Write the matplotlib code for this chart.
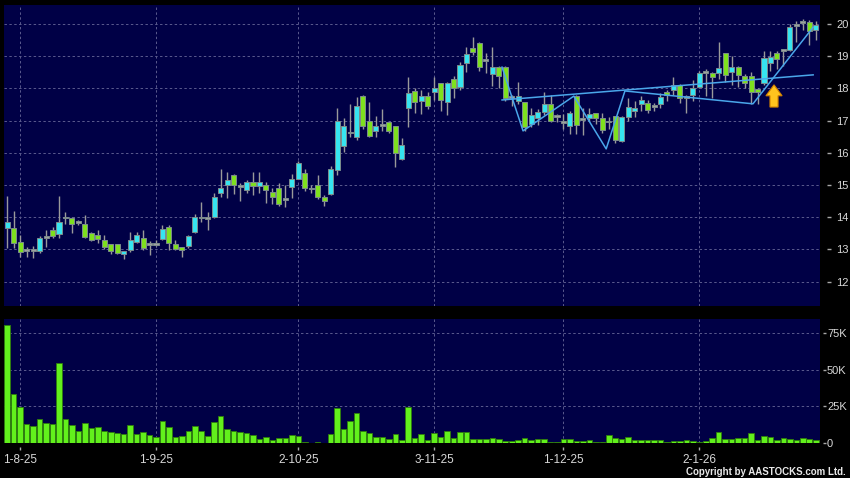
import numpy as np
import matplotlib.pyplot as plt
from matplotlib.patches import FancyArrow

# daily candles, oldest first (x = trading-day index)
opens = [13.66, 13.66, 13.23, 12.95, 12.95, 12.95, 13.35, 13.60, 13.48, 13.97,
         13.97, 13.82, 13.78, 13.50, 13.45, 13.30, 13.17, 13.17, 12.85, 12.98,
         13.23, 13.35, 13.14, 13.14, 13.32, 13.70, 13.17, 13.07, 13.10, 13.54,
         13.97, 13.94, 14.00, 14.75, 15.00, 15.30, 14.94, 14.85, 15.10, 14.97,
         15.00, 14.78, 14.90, 14.53, 14.94, 15.20, 15.37, 14.87, 15.00, 14.63,
         14.72, 15.47, 16.20, 16.60, 16.50, 17.77, 16.99, 16.68, 16.83, 16.96,
         16.83, 15.80, 17.39, 17.92, 17.60, 17.77, 17.90, 18.17, 17.58, 18.30,
         18.04, 18.79, 19.25, 19.41, 18.85, 18.45, 18.66, 18.66, 17.70, 17.60,
         17.58, 16.90, 17.08, 17.27, 17.50, 17.11, 16.93, 16.83, 17.77, 17.02,
         17.08, 17.23, 17.08, 16.95, 17.14, 16.37, 17.11, 17.30, 17.50, 17.55,
         17.42, 17.50, 17.89, 17.95, 18.10, 17.70, 17.80, 18.04, 18.48, 18.48,
         18.48, 19.10, 18.50, 18.66, 18.38, 18.38, 17.98, 18.17, 18.80, 19.10,
         19.16, 19.20, 19.94, 20.03, 20.06, 19.80]
highs = [14.66, 14.20, 13.45, 13.07, 13.10, 13.40, 13.60, 13.70, 14.66, 14.15,
         14.00, 13.90, 14.07, 13.55, 13.60, 13.45, 13.17, 13.17, 12.95, 13.54,
         13.55, 13.60, 13.27, 13.30, 13.75, 13.75, 13.30, 13.07, 13.45, 14.10,
         14.47, 14.15, 14.75, 15.50, 15.40, 15.35, 15.05, 15.15, 15.40, 15.40,
         15.10, 14.90, 15.05, 15.00, 15.35, 15.75, 15.50, 15.00, 15.30, 14.70,
         15.60, 17.40, 17.08, 17.50, 17.73, 17.80, 17.58, 17.15, 17.35, 16.96,
         16.83, 16.45, 18.35, 18.00, 17.95, 17.90, 18.35, 18.17, 18.20, 18.38,
         18.83, 19.30, 19.60, 19.45, 19.10, 19.30, 18.70, 18.70, 17.80, 18.20,
         17.58, 17.40, 17.35, 17.90, 17.80, 17.20, 17.20, 17.30, 17.80, 17.40,
         17.40, 17.25, 17.25, 17.10, 17.14, 17.15, 17.70, 17.60, 17.75, 17.65,
         17.55, 17.85, 17.95, 18.35, 18.15, 17.80, 18.25, 18.55, 18.60, 18.52,
         19.44, 19.10, 19.00, 18.70, 18.45, 18.50, 18.00, 19.15, 19.15, 19.15,
         19.20, 20.00, 20.10, 20.15, 20.12, 20.10]
lows = [13.04, 13.05, 12.76, 12.76, 12.73, 12.90, 13.07, 13.35, 13.35, 13.80,
        13.50, 13.75, 13.35, 13.25, 13.20, 13.00, 12.85, 12.85, 12.70, 12.92,
        13.20, 12.98, 12.83, 13.10, 13.30, 12.98, 12.98, 12.76, 13.04, 13.50,
        13.85, 13.60, 13.97, 14.63, 14.60, 14.72, 14.50, 14.75, 14.70, 14.75,
        14.45, 14.40, 14.35, 14.30, 14.60, 15.20, 14.80, 14.75, 14.55, 14.35,
        14.70, 15.30, 16.03, 16.50, 16.40, 16.75, 16.48, 16.50, 16.68, 16.60,
        15.56, 15.78, 16.80, 17.25, 17.20, 17.35, 17.65, 17.30, 17.17, 17.70,
        17.95, 18.50, 19.05, 18.55, 18.48, 18.07, 18.00, 17.60, 17.45, 17.50,
        16.68, 16.80, 16.85, 17.17, 16.95, 16.95, 16.75, 16.58, 16.58, 16.55,
        17.00, 16.90, 16.60, 16.75, 16.30, 16.33, 17.00, 17.10, 17.30, 17.25,
        17.30, 17.40, 17.60, 17.80, 17.55, 17.25, 17.60, 18.00, 17.75, 17.70,
        18.30, 18.20, 18.10, 18.05, 18.00, 17.50, 17.50, 18.10, 18.55, 18.60,
        18.70, 19.15, 19.45, 19.80, 19.35, 19.50]
closes = [13.85, 13.20, 12.92, 12.95, 12.95, 13.35, 13.35, 13.42, 13.85, 13.97,
          13.78, 13.82, 13.38, 13.30, 13.32, 13.07, 12.95, 12.90, 12.95, 13.30,
          13.45, 13.04, 13.14, 13.14, 13.63, 13.20, 13.00, 12.98, 13.42, 14.00,
          13.97, 13.94, 14.63, 14.90, 15.15, 15.00, 14.94, 15.10, 14.97, 15.10,
          14.85, 14.63, 14.40, 14.53, 15.20, 15.68, 14.90, 14.87, 14.63, 14.50,
          15.50, 16.99, 16.83, 16.60, 17.45, 16.83, 16.52, 16.83, 16.83, 16.68,
          16.00, 16.24, 17.86, 17.58, 17.76, 17.45, 18.00, 17.64, 18.17, 18.00,
          18.73, 19.07, 19.13, 18.66, 18.85, 18.66, 18.38, 17.70, 17.70, 17.77,
          16.80, 17.17, 17.27, 17.50, 17.00, 17.11, 16.93, 17.24, 16.86, 17.02,
          17.20, 17.08, 16.70, 16.95, 16.40, 17.11, 17.42, 17.39, 17.64, 17.33,
          17.42, 17.73, 17.80, 18.10, 17.70, 17.70, 18.00, 18.48, 18.48, 18.35,
          18.63, 18.42, 18.66, 18.42, 18.17, 17.90, 17.90, 18.94, 18.97, 18.90,
          19.16, 19.90, 19.94, 20.03, 19.78, 19.97]
volume_k = [80.0, 33.4, 24.8, 12.9, 11.7, 16.7, 14.0, 13.1, 54.6, 16.5,
            12.4, 8.6, 13.5, 10.6, 11.1, 8.1, 7.9, 7.2, 6.1, 12.2,
            6.5, 7.7, 5.6, 4.3, 15.3, 11.3, 4.5, 5.2, 8.1, 11.5,
            8.6, 5.2, 14.4, 18.7, 9.7, 8.1, 7.9, 6.8, 5.6, 3.2,
            4.3, 2.3, 3.6, 3.6, 5.9, 5.0, 0.7, 0.2, 0.7, 0.5,
            6.5, 24.2, 9.9, 15.3, 20.8, 8.1, 7.0, 4.1, 4.1, 2.7,
            6.3, 2.3, 24.8, 3.8, 6.3, 2.3, 6.8, 4.1, 8.4, 3.4,
            7.4, 7.9, 3.2, 3.2, 3.2, 3.4, 3.2, 1.6, 1.8, 2.3,
            3.6, 2.3, 3.2, 2.7, 0.9, 0.9, 2.7, 2.7, 1.4, 1.4,
            2.3, 0.9, 1.1, 5.4, 3.6, 3.2, 4.3, 2.3, 2.3, 2.3,
            2.5, 2.0, 0.9, 1.8, 1.8, 2.3, 1.8, 0.7, 1.6, 3.6,
            7.7, 2.9, 2.9, 3.8, 3.8, 7.0, 2.3, 5.2, 4.5, 2.3,
            3.8, 3.2, 2.3, 3.4, 2.9, 2.0]

date_labels = ['1-8-25', '1-9-25', '2-10-25', '3-11-25', '1-12-25', '2-1-26']
date_pos = [2, 23, 45, 66, 86, 107]

# hand-drawn pattern lines and the buy arrow
zigzag_x = [76.5, 79.75, 87.6, 92.6, 95.5, 115.3, 124.6]
zigzag_y = [18.66, 16.68, 17.76, 16.12, 17.92, 17.52, 19.9]
neck_x = [76.5, 124.6]
neck_y = [17.64, 18.42]
arrow_x = 118.55
arrow_y = [17.42, 18.11]

plt.rcParams['font.family'] = ['Liberation Sans', 'DejaVu Sans']

bg = '#000046'
gridc = '#5a5a8e'
txt = '#d8d8d8'
up_c, down_c, flat_c = '#36e4f0', '#7ee01e', '#a0a0a0'

o = np.array(opens); h = np.array(highs); l = np.array(lows); c = np.array(closes)
x = np.arange(len(o))
colors = np.where(c > o, up_c, np.where(c < o, down_c, flat_c))

fig = plt.figure(figsize=(8.5, 4.78), dpi=100, facecolor='black')
ax = fig.add_axes([4/850, 1-306/478, 816/850, 301/478], facecolor=bg)
ax2 = fig.add_axes([4/850, 1-443.3/478, 816/850, 124.3/478], facecolor=bg)

# price candles
ax.vlines(x, l, h, color='#9a9a9a', lw=1, zorder=2)
body_lo = np.minimum(o, c)
body_h = np.maximum(np.abs(c - o), 0.05)
ax.bar(x, body_h, bottom=body_lo, width=0.78, color=colors,
       edgecolor='#7c8c8c', linewidth=0.7, zorder=3)

ax.plot(zigzag_x, zigzag_y, color='#4aa6ea', lw=1.1, zorder=4)
ax.plot(neck_x, neck_y, color='#4aa6ea', lw=1.1, zorder=4)
ax.add_patch(FancyArrow(arrow_x, arrow_y[0], 0, arrow_y[1]-arrow_y[0], width=1.25,
                        head_width=2.5, head_length=0.34, length_includes_head=True,
                        facecolor='#ffc41e', edgecolor='#d08000', lw=0.8, zorder=5))

ax.set_xlim(-0.5, 125.66)
ax.set_ylim(11.24, 20.59)
ax.set_yticks(range(12, 21))

# volume
ax2.bar(x, volume_k, width=0.86, color='#62f01c', edgecolor='#2f7e0c',
        linewidth=0.6, zorder=3)
ax2.set_xlim(-0.5, 125.66)
ax2.set_ylim(0, 84.3)
ax2.set_yticks([0, 25, 50, 75])
ax2.set_yticklabels(['0', '25K', '50K', '75K'])

for a in (ax, ax2):
    for s in a.spines.values():
        s.set_visible(False)
    a.spines['bottom'].set_position(('outward', 2.4))
    a.yaxis.tick_right()
    a.set_xticks(date_pos)
    a.grid(True, color=gridc, ls=(0, (2.5, 2.5)), lw=0.7, zorder=1)
    a.set_axisbelow(True)
    a.tick_params(axis='x', colors='#a8a8a8', labelcolor=txt, length=2, width=1,
                  pad=3, labelsize=8.5)

ax.spines['right'].set_position(('outward', 5))
ax.tick_params(axis='y', colors='#a8a8a8', labelcolor=txt, length=3, width=1,
               pad=3.5, labelsize=8)
ax2.spines['right'].set_position(('outward', 2))
ax2.tick_params(axis='y', colors='#a8a8a8', labelcolor=txt, length=2.3, width=1,
                pad=0.8, labelsize=8)

ax.tick_params(axis='x', length=0, labelbottom=False)
ax2.set_xticklabels(date_labels)

fig.text(846/850, 1-472/478, 'Copyright by AASTOCKS.com Ltd.', color='#e8e8e8',
         fontsize=7, fontweight='bold', ha='right', va='center')

fig.savefig('out.png', dpi=100, facecolor='black')
